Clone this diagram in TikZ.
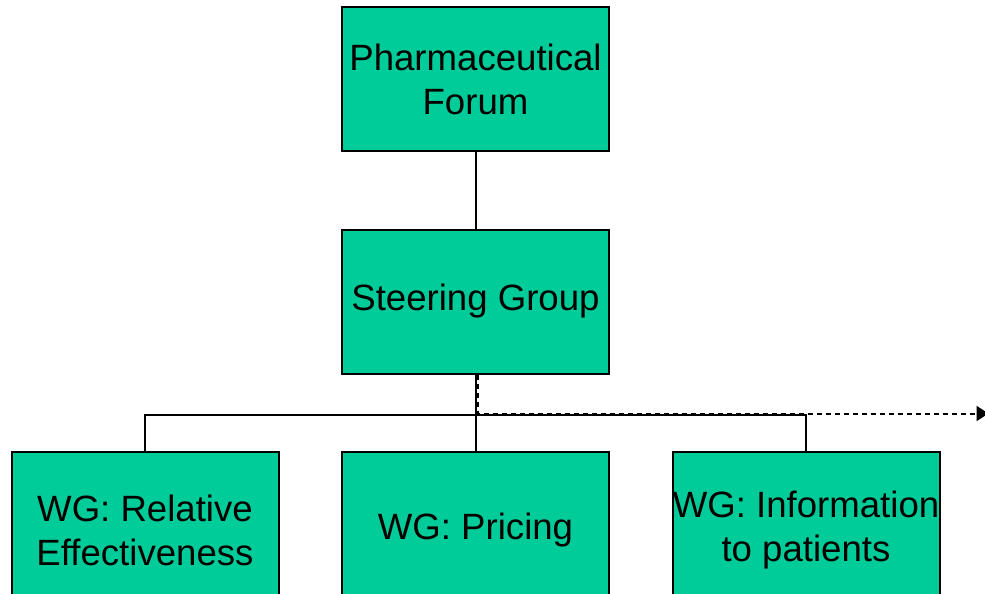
\documentclass[tikz,border=0pt]{standalone}
\usepackage{fontspec}
\setmainfont{Liberation Sans}
\usepackage{tikz}
\usetikzlibrary{arrows.meta,calc}
\definecolor{orggreen}{HTML}{00CC99}
\tikzstyle{orgbox}    = [rectangle, minimum width=133.5pt, minimum height=72pt, inner sep=0pt, align=center, draw=black, line width=1pt, fill=orggreen, font=\fontsize{18.3}{22}\selectfont]
\tikzstyle{wgbox}     = [orgbox, minimum height=78pt]
\tikzstyle{link}      = [line width=1pt]
\tikzstyle{dasharrow} = [line width=1pt, dash pattern=on 2.5pt off 2pt, -{Triangle[length=6pt, width=7.5pt]}]

\begin{document}
\begin{tikzpicture}[x=0.5pt, y=0.5pt, node distance=111.25pt] % 1 unit = 1 px of the reference
            \useasboundingbox (0,0) rectangle (985,-594);
            % 1. top level
            \node (forum) [orgbox] at (475.5,-79) {Pharmaceutical\\Forum};
            % 2. steering group
            \node (steer) [orgbox, below of=forum] {Steering Group};
            % 3. working groups (taller, cut off at the bottom)
            \node (pricing) [wgbox, below of=steer, yshift=-3pt] {WG: Pricing};
            \node (releff) [wgbox, left of=pricing, node distance=165.25pt] {WG: Relative\\Effectiveness};
            \node (info) [wgbox, right of=pricing, node distance=165.25pt] {WG: Information\\to patients};

            % branch point and outgoing arrow end
            \coordinate (split) at ($(steer.south)+(0,-40)$);
            \coordinate (outlet) at ($(split)+(513,1)$);

            % connectors
            \draw [link] (forum) -- (steer);                          % forum -> steering group
            \draw [link] (steer) -- (pricing);                        % steering group -> pricing
            \draw [link] (releff.north) |- (split) -| (info.north);   % horizontal bar

            % dashed link to the right
            \draw [dasharrow] ([xshift=1pt]steer.south) |- (outlet);

        \end{tikzpicture}
\end{document}
